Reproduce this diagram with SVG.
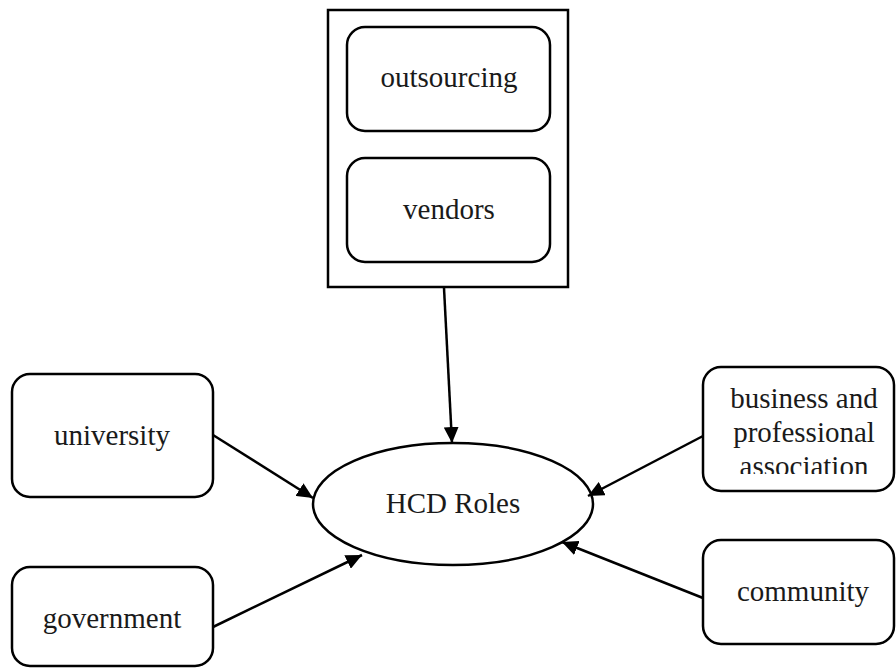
<svg xmlns="http://www.w3.org/2000/svg" width="896" height="671" viewBox="0 0 896 671">
<style>
.box{fill:#fff;stroke:#000;stroke-width:2.5}
.lbl{font-family:"Liberation Serif","Times New Roman",serif;font-size:29px;fill:#1a1a1a;text-anchor:middle}
.edge{stroke:#000;stroke-width:2.5;fill:none;marker-end:url(#arr)}
</style>
<defs>
<marker id="arr" markerUnits="userSpaceOnUse" markerWidth="17" markerHeight="15" refX="16" refY="7.5" orient="auto">
<path d="M0,0 L16,7.5 L0,15 z" fill="#000"/>
</marker>
<clipPath id="bizclip"><rect x="703" y="367" width="193" height="107"/></clipPath>
</defs>
<rect width="896" height="671" fill="#fff"/>
<g id="group-top">
<rect class="box" x="328" y="10" width="240" height="277"/>
</g>
<g id="outsourcing">
<rect class="box" x="347" y="27" width="203" height="104" rx="18"/>
<text class="lbl" x="449" y="87">outsourcing</text>
</g>
<g id="vendors">
<rect class="box" x="347" y="158" width="203" height="104" rx="18"/>
<text class="lbl" x="449" y="219">vendors</text>
</g>
<g id="hcd">
<ellipse class="box" cx="453" cy="504" rx="140" ry="61"/>
<text class="lbl" x="453" y="513">HCD Roles</text>
</g>
<g id="university">
<rect class="box" x="12" y="374" width="201" height="123" rx="18"/>
<text class="lbl" x="112" y="445">university</text>
</g>
<g id="government">
<rect class="box" x="12" y="567" width="201" height="99" rx="18"/>
<text class="lbl" x="112" y="628">government</text>
</g>
<g id="business">
<rect class="box" x="703" y="367" width="191" height="124" rx="18"/>
<g clip-path="url(#bizclip)">
<text class="lbl" x="804" y="408">business and</text>
<text class="lbl" x="804" y="442">professional</text>
<text class="lbl" x="804" y="476">association</text>
</g>
</g>
<g id="community">
<rect class="box" x="703" y="540" width="191" height="104" rx="18"/>
<text class="lbl" x="803" y="601">community</text>
</g>
<g id="connectors">
<line class="edge" x1="444" y1="288" x2="452" y2="443"/>
<line class="edge" x1="213" y1="435" x2="313" y2="498"/>
<line class="edge" x1="213" y1="627" x2="362" y2="555"/>
<line class="edge" x1="703" y1="436" x2="588" y2="496"/>
<line class="edge" x1="703" y1="598" x2="562" y2="542"/>
</g>
</svg>
